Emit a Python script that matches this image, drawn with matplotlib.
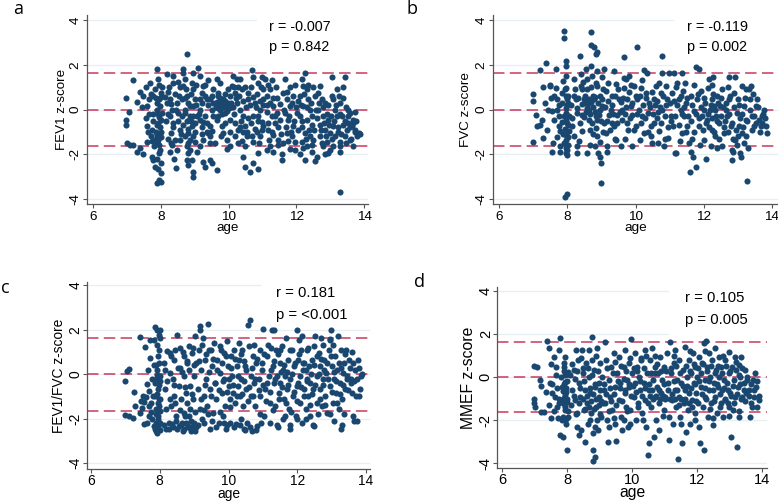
import matplotlib
matplotlib.use('Agg')
import matplotlib.pyplot as plt
import numpy as np
from matplotlib.patches import Rectangle

plt.rcParams['font.family'] = ['Liberation Sans', 'DejaVu Sans']

# (age, z-score) pairs
fev1 = [
    (6.97, 0.5), (6.97, -0.45), (6.97, -0.68), (6.99, -1.5), (7.09, -1.6), (7.19, 1.3), (7.17, -1.6),
    (7.29, -1.9), (7.48, -2.0), (7.39, 0.8), (7.48, 0.6), (7.07, -0.1),
    (7.58, 0.15), (7.68, 1.2), (7.58, -0.75), (7.63, -1.0), (7.70, -1.2), (7.73, -1.4), (7.78, 0.6),
    (7.83, 0.9), (7.88, 1.8), (7.66, 0.45), (7.76, -0.2), (7.78, -0.5), (7.80, -1.65), (7.73, -2.1),
    (7.78, -2.25), (7.83, -2.55), (7.88, -3.3), (7.96, -3.15), (8.00, -2.85), (7.88, -0.7), (7.86, -1.0),
    (7.90, -1.15), (7.93, -1.35), (7.96, -1.6), (7.98, -1.8), (7.98, -0.8), (8.00, -0.45), (8.03, -0.15),
    (7.98, 0.15), (7.96, 0.45), (8.00, 0.75), (8.03, 1.0), (7.88, 0.0), (7.93, -0.2),
    (8.17, 1.6), (8.22, 0.8), (8.27, 0.45), (8.17, 0.3), (8.37, 1.2), (8.42, 0.7), (8.32, 0.0),
    (8.27, -0.3), (8.37, -0.6), (8.29, -1.05), (8.42, -1.35), (8.27, -1.9), (8.32, -1.6), (8.47, 0.3),
    (8.52, -0.15), (8.57, -0.9), (8.47, -1.8), (8.37, 1.5), (8.57, 1.0),
    (8.66, 1.65), (8.71, 1.35), (8.76, 2.5), (8.65, 1.05), (8.76, 0.6), (8.81, 0.3), (8.71, 0.0),
    (8.86, -0.3), (8.76, -0.5), (8.91, -0.75), (8.81, -1.05), (8.86, -1.35), (8.76, -1.65), (8.81, -1.95),
    (8.76, -2.25), (8.81, -2.5), (8.66, 1.8), (8.96, 1.65), (8.91, 1.2), (8.96, 0.9), (9.01, 0.45),
    (8.96, 0.15), (9.06, -0.3), (9.01, -1.0), (9.06, -1.9), (8.96, -2.8), (8.96, -3.0), (8.91, -2.25),
    (8.62, 0.45), (8.62, -0.3), (8.57, -1.35),
    (9.11, 1.85), (9.16, 1.5), (9.25, 1.05), (9.21, 0.75), (9.35, 0.45), (9.16, 0.0), (9.30, -0.3),
    (9.35, -0.6), (9.21, -0.8), (9.40, -1.05), (9.25, -1.35), (9.16, -1.65), (9.45, -1.5), (9.25, -2.35),
    (9.30, -2.55), (9.45, -2.25), (9.50, -2.4), (9.55, 0.9), (9.45, 0.45), (9.50, 0.0), (9.16, -0.45),
    (9.45, -0.75),
    (9.65, -2.7), (9.60, -1.5), (9.70, 0.75), (9.75, 0.5), (9.80, 0.3), (9.84, 0.45), (9.75, 0.0),
    (9.89, -0.15), (9.94, 0.15), (9.99, 0.3), (9.65, -0.45), (9.80, -0.75), (9.84, -1.05), (9.94, -1.35),
    (10.04, -1.65), (9.75, 1.2), (9.65, 1.35), (9.99, 0.9), (10.04, 0.6), (10.09, 1.05), (9.94, -1.75),
    (10.04, -0.45),
    (10.14, 1.5), (10.24, 1.35), (10.34, 1.35), (10.19, 0.75), (10.29, 1.0), (10.39, 0.9), (10.48, 1.0),
    (10.24, 0.3), (10.34, 0.0), (10.43, -0.3), (10.19, -0.6), (10.34, -0.8), (10.43, -1.0), (10.53, -1.2),
    (10.29, -1.5), (10.48, -1.65), (10.43, -2.1), (10.48, -2.55), (10.63, -2.8), (10.58, 0.75), (10.58, 0.45),
    (10.68, 1.75), (10.73, 1.45), (10.88, 1.2), (10.98, 1.45), (10.83, 0.7), (10.78, 0.3), (10.93, 0.0),
    (10.73, -0.3), (10.88, -0.5), (11.02, -0.75), (10.83, -1.0), (10.93, -1.2), (10.73, -1.45), (10.88, -1.95),
    (10.88, -2.65), (11.02, 0.9), (11.02, 0.45), (10.98, -0.9), (10.73, -2.4),
    (11.07, 1.35), (11.17, 1.1), (11.27, 1.3), (11.12, 0.6), (11.22, 0.3), (11.32, 0.5), (11.12, -0.1),
    (11.27, -0.3), (11.37, -0.6), (11.17, -0.9), (11.32, -1.15), (11.47, -1.35), (11.22, -1.65), (11.32, -1.9),
    (11.42, -0.15), (11.52, -0.45), (11.12, -1.8),
    (11.66, 1.35), (11.61, 0.75), (11.71, 0.45), (11.81, 0.15), (11.66, -0.15), (11.76, -0.45), (11.91, -0.75),
    (11.71, -1.05), (11.86, -1.2), (11.61, -1.5), (11.81, -1.75), (11.57, -2.0), (11.57, -2.25), (11.96, 1.1),
    (11.91, 0.6), (12.01, -0.15), (11.96, -1.45), (11.81, 1.0),
    (12.25, 1.65), (12.16, 1.35), (12.20, 1.05), (12.30, 0.9), (12.11, 0.6), (12.35, 0.45), (12.20, 0.15),
    (12.40, 0.0), (12.11, -0.3), (12.30, -0.45), (12.45, -0.7), (12.16, -0.8), (12.25, -1.05), (12.40, -1.2),
    (12.16, -1.45), (12.30, -1.65), (12.45, -1.9), (12.25, -2.25), (12.11, -2.0), (12.50, 1.0), (12.55, 0.6),
    (12.50, -1.35),
    (12.70, 1.05), (12.65, 0.75), (12.75, 0.45), (12.84, 0.3), (12.65, 0.0), (12.79, -0.3), (12.94, -0.45),
    (12.70, -0.7), (12.84, -0.9), (12.99, -1.05), (12.70, -1.2), (12.89, -1.45), (12.79, -1.65), (12.99, -1.8),
    (12.94, -1.95), (12.84, -2.0), (12.60, -2.1), (12.55, -2.3), (13.04, 0.6), (13.04, 1.45),
    (13.09, 0.45), (13.14, 0.0), (13.19, -0.3), (13.09, -0.75), (13.24, -1.0), (13.14, -1.2), (13.29, -1.45),
    (13.09, -1.65), (13.29, 0.3), (13.34, -0.3), (13.38, -0.7), (13.48, -0.9), (13.43, -1.2), (13.29, -3.7),
    (13.38, 1.0), (13.43, 1.45), (13.19, 0.9), (13.27, -1.65), (13.29, -1.9),
    (13.53, 0.0), (13.58, -0.15), (13.68, -0.45), (13.73, -0.1), (13.63, -0.75), (13.73, -1.0), (13.83, -1.05),
    (13.78, -1.2), (13.88, -1.1), (13.58, -1.35), (13.68, -1.65), (13.53, -0.6),
    (7.92, 1.35), (7.95, 1.1), (8.0, 0.55), (7.9, 0.3), (7.95, -0.35), (7.92, -0.6), (8.02, -1.0),
    (8.0, -1.25), (7.9, -1.5), (7.95, -1.95), (7.9, -2.2), (8.0, -2.4), (7.92, -2.65), (8.02, -3.25),
    (7.85, 0.5), (7.85, -1.3), (7.3, 0.35), (7.45, 0.1), (7.55, -0.4), (7.6, -1.45), (7.65, -0.2),
    (7.7, 0.7), (7.75, -0.9), (7.4, -1.7), (7.55, 1.0),
    (8.12, 0.55), (8.15, -0.5), (8.2, -1.3), (8.25, 1.0), (8.3, 0.25), (8.35, -0.8), (8.4, -2.2),
    (8.45, 0.0), (8.5, -0.5), (8.55, 0.6), (8.6, -1.1), (8.45, -2.6), (8.2, -0.2), (8.3, -1.5), (8.5, 1.25),
    (8.65, -0.7), (8.7, -1.2), (8.75, 0.9), (8.8, -0.85), (8.85, 0.15), (8.9, -0.5), (8.95, -1.2),
    (9.0, -0.6), (9.05, 0.2), (8.7, 0.5), (8.8, -1.5), (8.9, 0.7), (9.0, -1.45), (8.85, -1.8), (9.05, 1.1),
    (8.72, -0.15), (8.95, -0.3), (8.82, -0.45),
    (9.12, -0.2), (9.2, 0.3), (9.25, -0.55), (9.3, 0.6), (9.35, -1.0), (9.4, 0.2), (9.45, -1.2), (9.5, 0.6),
    (9.55, -0.3), (9.2, -1.1), (9.4, 1.3), (9.3, 1.1), (9.5, -0.95), (9.55, 0.3), (9.15, 0.45),
    (9.62, 0.1), (9.67, 0.35), (9.7, 0.05), (9.72, 0.2), (9.78, 0.35), (9.82, 0.1), (9.85, 0.25), (9.9, 0.4),
    (9.95, -0.05), (10.0, 0.05), (9.7, -0.3), (9.78, -1.2), (9.88, -0.6), (10.05, -1.0), (9.68, 0.6),
    (9.9, 0.7), (9.8, -0.2), (10.08, 0.3),
    (10.12, 0.1), (10.17, -0.2), (10.22, 0.5), (10.27, -0.9), (10.32, 0.6), (10.37, -0.5), (10.42, 0.4),
    (10.47, -0.75), (10.52, 0.1), (10.57, -0.4), (10.2, -1.2), (10.4, -1.4), (10.55, -1.0), (10.15, 1.0),
    (10.62, 0.2), (10.67, -0.6), (10.72, 0.55), (10.77, -0.85), (10.82, 0.1), (10.87, -0.3), (10.92, 0.4),
    (10.97, -0.55), (11.0, 0.2), (10.7, -1.2), (10.9, -1.5), (10.65, 1.0), (10.95, 1.0),
    (11.12, 0.2), (11.17, -0.6), (11.22, 0.9), (11.27, -1.0), (11.32, 0.15), (11.37, -0.3), (11.42, 0.5),
    (11.47, -0.8), (11.52, 0.25), (11.55, -1.1), (11.2, -1.35), (11.4, 1.0), (11.45, -1.6),
    (11.62, 0.0), (11.68, -0.8), (11.73, 0.8), (11.78, -0.3), (11.83, -1.0), (11.88, 0.3), (11.93, -0.5),
    (11.98, 0.1), (12.05, -0.9), (11.75, -1.4), (11.95, -1.8), (12.05, 0.4),
    (12.12, 0.2), (12.17, -0.5), (12.22, 0.7), (12.27, -1.3), (12.32, 0.1), (12.37, -0.9), (12.42, 0.3),
    (12.47, -0.3), (12.52, -0.9), (12.57, 0.0), (12.2, -1.7), (12.45, -1.6), (12.35, 1.1),
    (12.62, -0.4), (12.67, 0.3), (12.72, -0.9), (12.77, 0.1), (12.82, -0.6), (12.87, -1.2), (12.92, 0.2),
    (12.97, -0.7), (13.02, -0.3), (13.05, -1.3), (12.75, -1.5), (12.9, -0.2),
    (13.12, -0.5), (13.17, 0.2), (13.22, -0.8), (13.27, -0.2), (13.32, -1.1), (13.37, 0.5), (13.42, -0.5),
    (13.47, -1.5), (13.52, -0.3), (13.57, -0.8), (13.62, -1.3), (13.67, -0.6), (13.72, -0.9), (13.77, -0.5),
    (13.25, 0.6), (13.45, 0.1),
]

fvc = [
    (6.99, 0.68), (6.99, 0.38), (6.99, -1.47), (7.07, -0.23), (7.12, -0.75), (7.2, -0.68), (7.19, 1.76),
    (7.29, -1.28), (7.39, 2.07), (7.45, 0.0), (7.48, 1.05), (7.51, 0.53), (7.56, -1.92), (7.6, -0.45),
    (7.66, 1.8), (7.66, 0.98), (7.71, 0.45), (7.71, 0.0), (7.76, -0.3), (7.76, -0.75), (7.8, -0.98),
    (7.78, -1.65), (7.8, -1.88), (7.86, 0.75), (7.86, 0.3), (7.88, 1.28), (7.9, 3.5), (7.9, 3.19),
    (7.93, -3.91), (8.0, -3.79), (7.95, 2.18), (7.95, 1.95), (7.95, 1.5), (7.95, 0.98), (7.97, 0.08),
    (7.97, -0.15), (7.97, -0.45), (7.95, -1.05), (7.97, -1.35), (7.97, -1.73), (8.0, -2.03), (8.01, 0.6),
    (8.03, -0.68), (8.03, -1.58), (8.05, -0.98), (8.0, 0.45), (8.13, -0.75), (8.2, 0.6), (8.2, 1.35),
    (8.25, 0.45), (8.3, 0.08), (8.3, -1.65), (8.3, -1.95), (8.36, 2.38), (8.39, 1.58), (8.39, 1.05),
    (8.42, -0.23), (8.44, 0.9), (8.44, -0.98), (8.49, 0.45), (8.54, 0.3), (8.56, 1.8), (8.59, 1.35),
    (8.59, 0.9), (8.59, -1.95), (8.64, 0.45), (8.64, 0.0), (8.64, -0.45), (8.66, -1.58), (8.69, 3.46),
    (8.69, 2.86), (8.71, 1.95), (8.73, 1.5), (8.75, 0.6), (8.78, 2.78), (8.78, 0.45), (8.81, -1.65),
    (8.83, -0.3), (8.83, -0.83), (8.85, 2.48), (8.88, 2.56), (8.88, 1.73), (8.88, 1.05), (8.88, -1.2),
    (8.91, -1.95), (8.95, 0.0), (8.95, -2.1), (8.98, -2.4), (8.99, -3.26), (9.03, 1.43), (9.03, 0.45),
    (9.08, -0.6), (9.08, 1.8), (9.13, -1.05), (9.13, 0.83), (9.17, -1.65), (9.17, -1.88), (9.22, -0.23),
    (9.27, 0.0), (9.32, 0.6), (9.37, 1.73), (9.37, -0.75), (9.42, 1.13), (9.42, -1.35), (9.47, -0.23),
    (9.52, 0.45), (9.57, -1.65), (9.61, 0.0), (9.61, -0.45), (9.66, 0.98), (9.66, 2.33), (9.71, 1.35),
    (9.76, 0.45), (9.79, -0.9), (9.81, 1.5), (9.86, 0.15), (9.91, -0.23), (9.91, -1.65), (9.96, 1.05),
    (10.0, -0.75), (10.05, 2.81), (10.05, 0.45), (10.1, 0.0), (10.12, -1.35), (10.15, 0.98), (10.2, -0.3),
    (10.25, 1.77), (10.25, -1.05), (10.3, 0.75), (10.35, 1.65), (10.38, -0.15), (10.39, 0.3), (10.44, -0.75),
    (10.49, -1.5), (10.54, 0.45), (10.59, 1.05), (10.64, -0.38), (10.69, -0.98), (10.74, 0.75), (10.77, 2.38),
    (10.79, 1.65), (10.79, 0.0), (10.83, -1.65), (10.88, 1.05), (10.93, 0.45), (10.96, -1.28), (10.98, 1.65),
    (11.03, -0.3), (11.08, 0.75), (11.1, -0.75), (11.13, 1.65), (11.16, -1.95), (11.2, -1.95), (11.22, 1.2),
    (11.27, 0.45), (11.32, 0.0), (11.35, -1.05), (11.37, 1.65), (11.39, 0.83), (11.42, -0.3), (11.47, 0.3),
    (11.52, -0.75), (11.57, -1.5), (11.59, -2.81), (11.62, 0.6), (11.64, -1.88), (11.68, -2.1), (11.71, -0.08),
    (11.76, 1.88), (11.76, -2.56), (11.81, 0.45), (11.86, 1.8), (11.86, -0.75), (11.91, 0.83), (11.96, -0.3),
    (12.01, 0.0), (12.01, -1.35), (12.05, 0.3), (12.08, -2.23), (12.1, -0.45), (12.13, 0.98), (12.15, 1.35),
    (12.17, 0.0), (12.2, -1.65), (12.23, 0.45), (12.25, -0.9), (12.28, 1.43), (12.3, 0.15), (12.33, -1.2),
    (12.35, -0.3), (12.4, 0.6), (12.45, -0.6), (12.49, 0.15), (12.54, 0.9), (12.54, -1.65), (12.59, -1.05),
    (12.64, 0.0), (12.69, -0.3), (12.74, 1.43), (12.74, 0.45), (12.79, -0.75), (12.82, -1.8), (12.84, -2.26),
    (12.88, 0.75), (12.93, 1.43), (12.93, -1.35), (12.98, -0.15), (13.01, 0.45), (13.03, -0.75), (13.05, -1.95),
    (13.08, -2.1), (13.13, 1.05), (13.13, -1.05), (13.18, 0.15), (13.18, -1.5), (13.23, -0.45), (13.28, -3.2),
    (13.32, 0.9), (13.37, 0.45), (13.42, -0.3), (13.47, -0.75), (13.52, 0.15), (13.57, 0.45), (13.62, -0.45),
    (13.67, -0.75), (13.72, -0.3), (13.77, 0.0), (13.82, -0.75), (13.86, -1.05),
    (7.92, 0.9), (7.95, 0.6), (7.98, 0.2), (7.9, -0.3), (8.0, -0.6), (7.93, -0.85), (7.97, -1.15),
    (8.02, -1.25), (7.9, -1.5), (8.0, -1.8), (7.85, -0.55), (7.88, -1.1), (8.03, 0.3), (7.95, -1.95),
    (8.05, -0.3), (7.25, -0.45), (7.35, 0.3), (7.42, -0.9), (7.5, 1.1), (7.55, -0.05), (7.62, 0.6),
    (7.7, -1.25), (7.75, 0.2), (7.3, 1.0), (7.58, -1.5),
    (8.1, 0.2), (8.15, -0.4), (8.22, 0.9), (8.28, -0.15), (8.32, 0.5), (8.38, -0.6), (8.42, 0.25),
    (8.48, -0.35), (8.52, 0.6), (8.55, -0.1), (8.2, -1.2), (8.35, -1.4), (8.45, 1.25), (8.58, 0.05),
    (8.62, 0.25), (8.66, -0.2), (8.7, 0.35), (8.72, -0.6), (8.76, 0.1), (8.8, -0.1), (8.82, 0.55),
    (8.86, -0.45), (8.9, 0.3), (8.92, -0.25), (8.96, 0.6), (9.0, -0.5), (9.02, 0.15), (9.06, -1.0),
    (8.7, 1.0), (8.85, 1.2), (8.75, -1.1), (8.95, -1.45), (8.68, -0.9), (9.05, 0.9),
    (9.12, 0.1), (9.16, -0.5), (9.2, 0.4), (9.25, -0.9), (9.3, 0.2), (9.35, -0.2), (9.4, 0.6), (9.45, -0.6),
    (9.5, 0.9), (9.55, -0.1), (9.2, 1.2), (9.4, -1.3), (9.3, -0.6), (9.58, 0.35),
    (9.63, 0.5), (9.68, -0.2), (9.72, 0.1), (9.75, -0.6), (9.8, 0.8), (9.85, -0.4), (9.9, 0.3), (9.95, -0.9),
    (10.0, 0.6), (9.7, -1.3), (9.88, 1.1), (10.05, -0.2), (9.65, 1.4),
    (10.12, 0.6), (10.17, -0.6), (10.22, 0.2), (10.28, -0.4), (10.32, 0.5), (10.37, -1.0), (10.42, 0.1),
    (10.47, 0.8), (10.52, -0.2), (10.57, 0.2), (10.2, 1.3), (10.45, -1.2), (10.55, -0.6),
    (10.62, 0.4), (10.67, -0.1), (10.72, 0.1), (10.76, -0.6), (10.82, 0.6), (10.86, -0.3), (10.9, 0.2),
    (10.95, -0.8), (11.0, 0.3), (11.05, -0.5), (10.7, 1.2), (10.85, -1.3), (10.66, -1.5),
    (11.12, 0.4), (11.17, -0.3), (11.22, 0.2), (11.27, -0.7), (11.32, 0.6), (11.37, -0.2), (11.42, 0.1),
    (11.47, -1.0), (11.52, 0.5), (11.55, -0.3), (11.2, 1.0), (11.3, -1.4), (11.45, 1.2),
    (11.62, -0.5), (11.67, 0.2), (11.72, -1.0), (11.78, -0.2), (11.82, 0.7), (11.87, -0.4), (11.92, 0.1),
    (11.97, -0.9), (12.02, 0.5), (12.06, -0.6), (11.7, 1.1), (11.9, -1.6), (11.65, -1.3),
    (12.12, -0.2), (12.15, -0.8), (12.2, 0.2), (12.24, -0.4), (12.27, 0.7), (12.3, -1.0), (12.34, 0.0),
    (12.38, -0.5), (12.42, 0.3), (12.46, -1.3), (12.5, -0.3), (12.55, 0.1), (12.58, -0.8), (12.25, 1.1),
    (12.4, -1.7), (12.52, 0.5),
    (12.62, -0.5), (12.66, 0.3), (12.7, -1.0), (12.74, -0.2), (12.78, 0.6), (12.82, -0.6), (12.86, -1.3),
    (12.9, 0.1), (12.94, -0.9), (12.98, -1.6), (13.02, 0.2), (13.06, -0.4), (12.72, 1.0), (12.85, -1.9),
    (13.0, -1.2),
    (13.12, -0.2), (13.15, -0.8), (13.2, 0.5), (13.24, -1.2), (13.28, -0.5), (13.3, -1.7), (13.35, 0.0),
    (13.4, -0.9), (13.44, 0.7), (13.48, -0.3), (13.54, -0.6), (13.6, 0.1), (13.65, -1.0), (13.7, -0.6),
    (13.75, -0.2), (13.8, -0.4), (13.25, 0.9), (13.38, 1.05),
]

fev1_fvc = [
    (7.0, -0.31), (7.05, 0.13), (7.12, 0.24), (7.0, -1.84), (7.1, -1.88), (7.22, -1.96), (7.29, -1.43),
    (7.24, -0.81), (7.42, 1.67), (7.44, -1.73), (7.48, -1.51), (7.51, -0.99), (7.53, -2.25), (7.58, 1.22),
    (7.6, -1.01), (7.63, -0.46), (7.68, -1.43), (7.71, 1.55), (7.73, 0.73), (7.75, -1.28), (7.78, -2.03),
    (7.78, -0.24), (7.82, 0.43), (7.82, -2.33), (7.84, 1.55), (7.87, 2.12), (7.87, -0.39), (7.87, -0.99),
    (7.9, -1.58), (7.9, -2.55), (7.92, 2.0), (7.92, 0.21), (7.94, -0.69), (7.94, -1.88), (7.97, 1.1),
    (7.97, -1.13), (8.0, -0.09), (8.0, -2.18), (8.02, 1.63), (8.02, 1.97), (7.92, -2.63), (7.94, -2.03),
    (7.97, 0.51), (7.98, -1.43), (7.9, -0.24),
    (8.11, 0.51), (8.16, -0.69), (8.19, -1.58), (8.21, 1.03), (8.26, -2.48), (8.29, 0.96), (8.31, 0.06),
    (8.33, -1.43), (8.36, -2.25), (8.39, -0.24), (8.41, 0.66), (8.42, -0.99), (8.45, 1.1), (8.48, -1.88),
    (8.5, 1.78), (8.5, -2.48),
    (8.55, -0.54), (8.58, 0.28), (8.6, 1.18), (8.62, -1.13), (8.65, -2.18), (8.68, -2.55), (8.7, 0.81),
    (8.72, -0.09), (8.74, -1.88), (8.77, -0.84), (8.79, 0.51), (8.81, -2.33), (8.84, 1.25), (8.87, -0.54),
    (8.89, -1.58), (8.91, -2.48), (8.94, 0.96), (8.97, -1.13), (8.99, -0.09), (9.01, -2.18), (9.04, 1.73),
    (9.04, -2.55), (9.06, 0.51),
    (9.1, -0.69), (9.13, 1.1), (9.16, 2.15), (9.18, 2.0), (9.18, -1.58), (9.2, 0.21), (9.23, -2.03),
    (9.26, 1.63), (9.28, -0.99), (9.33, 0.66), (9.36, -0.24), (9.38, -1.43), (9.39, 2.27), (9.42, 1.1),
    (9.45, -0.69), (9.47, -2.48), (9.52, 0.36), (9.55, -1.73), (9.57, 1.4), (9.62, -0.39), (9.65, -1.13),
    (9.67, 0.66),
    (9.71, -2.18), (9.74, 1.25), (9.76, 0.06), (9.81, -0.84), (9.84, -1.88), (9.86, 0.96), (9.88, -0.24),
    (9.91, -1.43), (9.94, -2.48), (9.96, 1.48), (9.98, 0.36), (10.01, -0.54), (10.03, -1.13), (10.05, -2.18),
    (10.07, 0.81),
    (10.1, -0.09), (10.13, -0.84), (10.15, 1.1), (10.2, -1.28), (10.23, -2.25), (10.25, 0.36), (10.27, -0.54),
    (10.3, 0.66), (10.33, -0.99), (10.35, -2.03), (10.36, -0.24), (10.39, 1.1), (10.42, -1.43), (10.44, -2.48),
    (10.49, 0.36), (10.52, -0.69), (10.54, -2.18), (10.56, 2.22), (10.59, 1.25), (10.62, 2.42), (10.64, -0.09),
    (10.66, -0.99), (10.68, -2.55), (10.71, 0.81),
    (10.73, -0.39), (10.78, -1.43), (10.81, 0.51), (10.83, -2.33), (10.88, -0.24), (10.91, 1.1), (10.93, -0.99),
    (10.98, 0.21), (11.0, 2.03), (11.02, -1.88), (11.07, -0.69),
    (11.12, 0.81), (11.17, -0.09), (11.2, -1.28), (11.22, -2.18), (11.27, 2.0), (11.3, 0.36), (11.32, -0.39),
    (11.33, 2.0), (11.36, -1.43), (11.39, 1.1), (11.41, -0.09), (11.43, -2.4), (11.46, -0.84), (11.49, 0.51),
    (11.51, -0.39), (11.56, 1.25), (11.59, 0.21),
    (11.61, -1.13), (11.63, -1.88), (11.65, -0.09), (11.68, 1.63), (11.7, -0.69), (11.72, 0.66), (11.75, -1.58),
    (11.78, -2.48), (11.8, -0.24), (11.85, 1.1), (11.88, -0.99), (11.9, 0.36), (11.95, -1.88), (11.98, -0.54),
    (12.0, 2.0), (12.01, 0.66),
    (12.04, 1.55), (12.07, -0.09), (12.09, -1.28), (12.11, 1.1), (12.14, -2.18), (12.17, 0.21), (12.19, -0.69),
    (12.21, 0.51), (12.24, -1.58), (12.27, -0.24), (12.29, 1.1), (12.3, -0.99), (12.33, 0.36), (12.36, -0.39),
    (12.38, -1.88), (12.43, 0.66), (12.46, -0.69), (12.48, 1.25), (12.5, -2.33), (12.53, 1.7), (12.56, -1.28),
    (12.58, -0.09), (12.62, 0.96), (12.65, -0.69), (12.67, 0.36), (12.69, 1.63), (12.72, -1.43), (12.75, -0.24),
    (12.77, 0.66), (12.82, -0.99), (12.85, 0.06), (12.87, -1.73), (12.92, 1.1), (12.94, -0.54), (12.96, 1.55),
    (12.98, 2.0), (13.01, 0.36), (13.04, -1.28),
    (13.06, -0.24), (13.08, -2.1), (13.11, 0.81), (13.14, -0.84), (13.16, 0.21), (13.18, 1.7), (13.21, -1.58),
    (13.24, -0.39), (13.26, -2.48), (13.27, 1.1), (13.3, -1.13), (13.33, 0.06), (13.35, 0.51), (13.4, -0.69),
    (13.43, 1.1), (13.45, -0.09), (13.5, 0.66),
    (13.55, -0.39), (13.59, -0.84), (13.62, -1.88), (13.64, -2.1), (13.69, 0.21), (13.74, -0.24), (13.76, 0.66),
    (13.79, -0.99), (13.82, -0.69), (13.86, -0.09), (13.89, -0.01),
    (7.92, 1.3), (7.95, 0.8), (7.9, 0.4), (7.97, -0.5), (7.92, -0.9), (7.95, -1.3), (8.0, -1.65),
    (7.9, -2.2), (7.95, -2.4), (8.0, -2.5), (7.88, -1.8), (7.98, 1.75), (7.93, -0.05), (8.02, -0.3),
    (7.85, -2.45), (8.02, -1.1), (7.55, -1.25), (7.62, -2.2), (7.65, 0.2), (7.7, -0.75), (7.75, -1.7),
    (7.8, -1.0), (7.45, -1.2), (7.68, -1.9),
    (8.12, -2.3), (8.18, -2.45), (8.22, -0.3), (8.27, -2.2), (8.32, 0.8), (8.38, -2.4), (8.42, -0.5),
    (8.46, -2.1), (8.52, 0.3), (8.55, -2.35), (8.3, -1.1), (8.45, -1.3), (8.15, 0.2), (8.58, -1.6),
    (8.62, -2.3), (8.66, 0.1), (8.7, -2.45), (8.74, -0.6), (8.76, -2.2), (8.8, -1.3), (8.83, -2.4),
    (8.86, 0.2), (8.9, -2.1), (8.93, -0.9), (8.96, -2.35), (9.0, 0.4), (9.03, -1.7), (9.06, -2.4),
    (8.68, 1.0), (8.85, -1.9), (8.98, 1.2), (8.72, -1.75), (8.92, -2.55), (8.8, 0.6),
    (9.12, -2.3), (9.15, 0.6), (9.2, -1.1), (9.24, 1.3), (9.28, -2.2), (9.32, -0.5), (9.36, 0.9),
    (9.4, -1.8), (9.44, 0.1), (9.48, -1.0), (9.52, -2.1), (9.56, 0.7), (9.6, -0.4), (9.3, -1.6), (9.5, 1.1),
    (9.64, -2.4), (9.68, 0.2), (9.72, -0.7), (9.76, -1.7), (9.8, 0.5), (9.84, -0.3), (9.88, -2.2),
    (9.92, 0.8), (9.96, -0.8), (10.0, -0.2), (10.04, -1.5), (10.08, 0.3), (9.78, 1.1), (9.95, -2.3),
    (10.12, -0.5), (10.16, -2.4), (10.2, 0.7), (10.24, -1.0), (10.28, -0.1), (10.32, -2.3), (10.36, 0.9),
    (10.4, -0.9), (10.44, -0.3), (10.48, -2.5), (10.52, 0.2), (10.56, -1.2), (10.6, -0.6), (10.3, 1.4),
    (10.45, 0.6),
    (10.63, -2.4), (10.67, 0.3), (10.72, -1.0), (10.76, -0.2), (10.8, -2.5), (10.84, 0.7), (10.88, -0.7),
    (10.92, -1.8), (10.96, 0.5), (11.0, -0.5), (11.04, 0.9), (11.08, -1.2), (10.75, 1.3), (10.95, -2.2),
    (11.12, -0.4), (11.16, 1.3), (11.2, -0.8), (11.24, 0.2), (11.28, -1.6), (11.32, 0.6), (11.36, -0.2),
    (11.4, -2.3), (11.44, 0.9), (11.48, -1.1), (11.52, 0.1), (11.56, -0.6), (11.58, -2.0), (11.25, 1.2),
    (11.5, 1.1),
    (11.62, 0.4), (11.66, -1.3), (11.7, 0.1), (11.74, -0.5), (11.78, 1.1), (11.82, -1.7), (11.86, 0.0),
    (11.9, -0.8), (11.94, 0.5), (11.98, -1.2), (12.02, -0.4), (12.06, 0.9), (11.8, -2.3), (12.0, -2.0),
    (12.12, -0.6), (12.16, 0.5), (12.2, -1.0), (12.24, 0.2), (12.28, -0.3), (12.32, 1.2), (12.36, -1.4),
    (12.4, 0.0), (12.44, -0.9), (12.48, 0.4), (12.52, -0.5), (12.56, 0.8), (12.6, -1.8), (12.25, -2.0),
    (12.45, -2.3), (12.15, 1.7),
    (12.63, 0.0), (12.67, -1.1), (12.7, 0.7), (12.74, -0.5), (12.78, 0.2), (12.82, -1.4), (12.86, 0.5),
    (12.9, -0.2), (12.94, -1.8), (12.98, 0.8), (13.02, -0.8), (13.06, 0.1), (12.75, 1.3), (12.95, 1.6),
    (13.05, 1.3),
    (13.12, -0.3), (13.16, -1.3), (13.2, 0.5), (13.24, -0.9), (13.28, 0.3), (13.32, -0.5), (13.36, -1.8),
    (13.4, 0.9), (13.44, -0.2), (13.48, -0.7), (13.52, 0.3), (13.56, -0.2), (13.62, 0.5), (13.66, -0.3),
    (13.7, -1.0), (13.8, 0.3), (13.75, -2.1), (13.6, 1.0), (13.3, -2.3),
]

mmef = [
    (6.97, -1.0), (6.97, -1.22), (6.99, 0.51), (7.08, 0.45), (7.03, -1.38), (7.18, -0.14), (7.21, -1.64),
    (7.28, -1.61), (7.38, 1.69), (7.46, 1.33), (7.49, -0.29), (7.51, -1.92), (7.54, -0.76), (7.59, 0.95),
    (7.64, -0.91), (7.66, 0.48), (7.69, -1.38), (7.74, -1.22), (7.76, 1.26), (7.79, 1.84), (7.79, -2.7),
    (7.83, 0.02), (7.85, -0.45), (7.85, -2.0), (7.87, -2.78), (7.9, 0.48), (7.9, -0.99), (7.93, -1.53),
    (7.95, 0.95), (7.95, -0.22), (7.97, -0.68), (7.97, -2.16), (8.0, -1.15), (8.0, -3.4), (8.02, 0.25),
    (8.03, -1.84),
    (8.1, 0.09), (8.15, -0.6), (8.21, 0.33), (8.26, -1.07), (8.28, 1.26), (8.31, -1.69), (8.34, 0.79),
    (8.36, -0.29), (8.38, -2.7), (8.41, -0.91), (8.44, -2.47), (8.46, 1.26), (8.48, 0.17), (8.51, -1.53),
    (8.54, -0.6),
    (8.56, -3.0), (8.58, 0.64), (8.62, -1.22), (8.65, -2.16), (8.67, 0.02), (8.69, 1.26), (8.72, -0.76),
    (8.75, -1.69), (8.77, 1.88), (8.79, -2.62), (8.79, -3.4), (8.81, -3.89), (8.82, 0.33), (8.85, -0.45),
    (8.87, -3.7), (8.89, -1.38), (8.92, 1.35), (8.95, -2.47), (8.97, -0.29), (8.99, -0.91), (9.03, 0.64),
    (9.06, -1.84),
    (9.08, 0.02), (9.13, -0.6), (9.16, 1.63), (9.18, -1.22), (9.2, 0.79), (9.23, -2.0), (9.26, -3.0),
    (9.28, -0.14), (9.33, -0.91), (9.36, 0.48), (9.38, -1.53), (9.44, 1.1), (9.47, -0.45), (9.49, -2.16),
    (9.51, -2.96), (9.54, 0.17),
    (9.59, -1.07), (9.61, 0.95), (9.64, -0.29), (9.67, -1.84), (9.69, -2.47), (9.74, 0.48), (9.77, -0.76),
    (9.79, 1.26), (9.82, -1.38), (9.85, -0.14), (9.88, -2.31), (9.9, 0.64), (9.92, -0.45), (9.95, -1.53),
    (9.98, 1.78), (10.0, 0.17),
    (10.05, -0.91), (10.08, 1.1), (10.1, -0.29), (10.12, -2.0), (10.15, 0.48), (10.18, -1.22), (10.21, 0.02),
    (10.26, -0.6), (10.29, 0.79), (10.31, -1.69), (10.36, -0.29), (10.39, 1.26), (10.41, -1.07), (10.43, -2.31),
    (10.46, 0.17), (10.49, -3.61), (10.51, -0.6), (10.53, -3.09),
    (10.56, 0.79), (10.59, -1.38), (10.62, 1.33), (10.64, -0.14), (10.67, -2.78), (10.7, -0.91), (10.72, 0.48),
    (10.74, -2.0), (10.77, -0.45), (10.8, 0.17), (10.82, -1.22), (10.84, -2.47), (10.87, 0.95), (10.9, -0.76),
    (10.92, -0.14), (10.97, -1.53), (11.0, 0.48),
    (11.03, -0.91), (11.08, 1.1), (11.11, -0.29), (11.13, -1.84), (11.15, -2.93), (11.18, 1.61), (11.21, 0.17),
    (11.23, -1.07), (11.25, -2.16), (11.28, 0.64), (11.31, -0.6), (11.33, 1.26), (11.35, -1.38), (11.38, -0.14),
    (11.42, -3.83), (11.44, -0.91), (11.46, 0.79), (11.49, -1.84), (11.52, -0.29), (11.54, -3.09),
    (11.56, 0.33), (11.59, -1.22), (11.62, 1.41), (11.64, -0.6), (11.66, -2.54), (11.69, 0.02), (11.72, -1.53),
    (11.74, 0.79), (11.76, -0.76), (11.79, -2.16), (11.83, 0.17), (11.85, -1.07), (11.87, 1.1), (11.9, -0.29),
    (11.93, -1.69), (11.95, 0.48), (11.97, -0.76),
    (12.0, 0.02), (12.03, -1.22), (12.05, -2.31), (12.07, 0.95), (12.1, -3.09), (12.13, -0.45), (12.15, 0.64),
    (12.17, -1.38), (12.21, -3.4), (12.22, 1.57), (12.24, -0.14), (12.26, -0.91), (12.28, 1.69), (12.31, 0.48),
    (12.34, -1.84), (12.36, -0.6), (12.38, 1.1), (12.41, 0.02), (12.44, -1.22),
    (12.46, 0.79), (12.48, -2.23), (12.51, -0.29), (12.54, 1.33), (12.56, -0.91), (12.58, 0.33), (12.62, -1.69),
    (12.65, -0.45), (12.67, 0.95), (12.69, 0.02), (12.72, -1.38), (12.75, 0.48), (12.77, -0.6), (12.79, -1.84),
    (12.82, -0.14), (12.85, -1.07), (12.87, 0.79),
    (12.92, -0.29), (12.95, -1.22), (12.97, 0.17), (12.99, 1.18), (13.03, -0.76), (13.06, -2.78), (13.08, 0.48),
    (13.1, -1.53), (13.13, -0.14), (13.16, 0.95), (13.18, -0.91), (13.2, 0.33), (13.23, -3.24), (13.26, -0.45),
    (13.28, -1.84), (13.3, 0.56), (13.33, 0.02), (13.36, 0.95), (13.38, -0.91),
    (13.44, -0.29), (13.47, 0.33), (13.51, -0.76), (13.54, -0.14), (13.59, -0.6), (13.64, -1.84), (13.67, -1.22),
    (13.71, -0.14), (13.74, -0.91), (13.79, 0.2), (13.82, -0.45), (13.85, -1.38), (13.9, -1.07),
    (7.92, 0.3), (7.95, 0.1), (7.9, -0.3), (7.97, -0.5), (7.93, -0.85), (8.0, -1.0), (7.9, -1.25),
    (7.95, -1.4), (8.02, -1.6), (7.88, -1.85), (7.98, -1.95), (7.92, 0.65), (7.85, -1.05), (8.0, -0.2),
    (7.88, -0.65), (7.2, -0.4), (7.35, -0.7), (7.45, -1.3), (7.55, -0.3), (7.6, -1.6), (7.65, 0.1),
    (7.7, -0.5), (7.75, -1.0), (7.5, 0.6), (7.72, -1.9),
    (8.12, -1.3), (8.16, 0.6), (8.2, -0.9), (8.24, -0.1), (8.28, -1.7), (8.32, 0.3), (8.36, -1.2),
    (8.4, -0.5), (8.44, 0.9), (8.48, -1.0), (8.52, -0.2), (8.56, -1.5), (8.3, -2.3), (8.5, 0.4),
    (8.62, -0.9), (8.65, 0.4), (8.68, -1.4), (8.71, -0.5), (8.74, -1.1), (8.77, 0.1), (8.8, -0.8),
    (8.83, -1.5), (8.86, -0.3), (8.89, -1.0), (8.92, -2.0), (8.95, 0.3), (8.98, -1.3), (9.01, -0.6),
    (9.04, -1.1), (8.7, -2.0), (8.85, -2.3), (9.0, -1.7), (8.78, 0.8), (8.9, 1.0),
    (9.12, -1.2), (9.15, -0.3), (9.2, -0.8), (9.24, 0.4), (9.28, -1.6), (9.32, -0.5), (9.36, -1.1),
    (9.4, 0.2), (9.44, -0.8), (9.48, 0.7), (9.52, -1.3), (9.56, -0.2), (9.3, -2.3), (9.45, -1.9),
    (9.62, -0.5), (9.66, 0.5), (9.7, -1.1), (9.74, -0.1), (9.78, -0.6), (9.82, 0.3), (9.86, -1.6),
    (9.9, -0.3), (9.94, 0.9), (9.98, -0.9), (10.02, -0.4), (10.06, 0.4), (9.75, -2.0), (9.95, -2.2),
    (10.12, -0.7), (10.16, 0.3), (10.2, -1.4), (10.24, -0.2), (10.28, 0.9), (10.32, -0.9), (10.36, 0.4),
    (10.4, -0.5), (10.44, 1.0), (10.48, -1.2), (10.52, -0.3), (10.56, -0.9), (10.6, 0.2), (10.35, -2.0),
    (10.62, -0.6), (10.66, -1.0), (10.7, 0.2), (10.74, -0.9), (10.78, 0.6), (10.82, -0.6), (10.86, -1.0),
    (10.9, 0.3), (10.94, -0.9), (10.98, -0.3), (11.02, -1.0), (11.06, 0.3), (10.7, 1.0), (10.95, -1.8),
    (11.12, -0.6), (11.16, -1.0), (11.2, 0.4), (11.24, -0.8), (11.28, -0.2), (11.32, -1.0), (11.36, 0.5),
    (11.4, -0.6), (11.44, -1.3), (11.48, 0.2), (11.52, -1.0), (11.56, -0.4), (11.3, 1.0), (11.5, -2.2),
    (11.62, -1.0), (11.66, 0.5), (11.7, -0.4), (11.74, -1.2), (11.78, 0.3), (11.82, -0.5), (11.86, -1.4),
    (11.9, 0.6), (11.94, -0.3), (11.98, -1.1), (12.02, 0.4), (12.06, -0.2), (11.8, 1.2), (11.95, -2.0),
    (12.12, 0.2), (12.16, -0.8), (12.2, 0.6), (12.24, -0.5), (12.28, -1.0), (12.32, 0.3), (12.36, -0.2),
    (12.4, -1.5), (12.44, 0.5), (12.48, -0.6), (12.52, -1.1), (12.56, 0.2), (12.25, 1.2), (12.5, -1.9),
    (12.62, -0.3), (12.66, 0.5), (12.7, -0.8), (12.74, -1.2), (12.78, 0.2), (12.82, -0.5), (12.86, -1.0),
    (12.9, 0.5), (12.94, -0.6), (12.98, -1.4), (13.02, 0.3), (13.06, -0.9), (12.8, 1.0), (13.0, -1.8),
    (13.12, -0.4), (13.15, -1.2), (13.2, 0.7), (13.24, -0.8), (13.28, 0.1), (13.32, -0.3), (13.36, -1.0),
    (13.4, 0.4), (13.44, -0.6), (13.48, -1.1), (13.55, 0.0), (13.6, -0.9), (13.65, -0.3), (13.7, -1.4),
    (13.75, -0.6), (13.85, -0.2), (13.3, -1.6), (13.9, -0.9),
]

panel_data = [fev1, fvc, fev1_fvc, mmef]
panel_letters = ['a', 'b', 'c', 'd']
y_labels = ['FEV1 z-score', 'FVC z-score', 'FEV1/FVC z-score', 'MMEF z-score']
r_values = ['-0.007', '-0.119', '0.181', '0.105']
p_values = ['0.842', '0.002', '<0.001', '0.005']
ref_lines = [-1.645, 0, 1.645]

W, H = 778, 504
navy = '#1a476f'
dash_red = '#c8395c'
grid_col = '#e6eff2'
axis_col = '#555555'

# per panel layout in pixels: axes box, limits, letter, stats, white text box corner, font sizes
layout = [
    dict(box=(87, 15, 368, 204), xlim=(5.823, 14.11), ylim=(-4.22, 4.22), letter=(13, 14),
         stats=(269, 27, 47), cover=(257, 68), tick_fs=9.7, lab_fs=9.6, stat_fs=10.4,
         ylab_x=-0.089, xlab_y=-0.125, xpad=2.0),
    dict(box=(493, 15, 778, 204), xlim=(5.824, 14.176), ylim=(-4.22, 4.22), letter=(407, 14),
         stats=(687, 27, 47), cover=(674, 68), tick_fs=9.7, lab_fs=9.7, stat_fs=10.4,
         ylab_x=-0.095, xlab_y=-0.125, xpad=2.0),
    dict(box=(87, 282, 370, 469), xlim=(5.884, 14.116), ylim=(-4.27, 4.15), letter=(1, 293),
         stats=(276, 293, 315), cover=(262, 322), tick_fs=9.9, lab_fs=9.9, stat_fs=10.7,
         ylab_x=-0.099, xlab_y=-0.134, xpad=0.6),
    dict(box=(497, 287, 767, 468), xlim=(5.846, 14.154), ylim=(-4.23, 4.19), letter=(414, 287),
         stats=(685, 298, 320), cover=(669, 336), tick_fs=10.5, lab_fs=11.3, stat_fs=10.7,
         ylab_x=-0.107, xlab_y=-0.137, xpad=0.5),
]

fig = plt.figure(figsize=(W / 100, H / 100), dpi=100)

for data, letter, ylab, r, p, lay in zip(panel_data, panel_letters, y_labels, r_values, p_values, layout):
    x0, y0, x1, y1 = lay['box']
    ax = fig.add_axes([x0 / W, 1 - y1 / H, (x1 - x0) / W, (y1 - y0) / H])
    ages, zs = np.array(data).T

    for g in [-4, -2, 0, 2, 4]:
        ax.axhline(g, color=grid_col, lw=0.9, zorder=0)
    # white text box that hides the grid behind the statistics
    cx, cy = lay['cover']
    ax.add_patch(Rectangle(((cx - x0) / (x1 - x0), (y1 - cy) / (y1 - y0)), 1, 1,
                           transform=ax.transAxes, facecolor='white', edgecolor='none', zorder=0.5))
    for v in ref_lines:
        ax.axhline(v, color=dash_red, lw=1.1, ls=(0, (7.5, 3.5)), zorder=1)

    ax.plot(ages, zs, 'o', ms=4.4, mew=0, color=navy, zorder=2)

    ax.set_xlim(*lay['xlim'])
    ax.set_ylim(*lay['ylim'])
    ax.set_xticks([6, 8, 10, 12, 14])
    ax.set_yticks([-4, -2, 0, 2, 4])
    ax.set_yticklabels(['-4', '-2', '0', '2', '4'], rotation=90, va='center', ha='center')
    # tick length / pad are in points (0.72 pt per pixel at 100 dpi)
    ax.tick_params(length=2.9, width=0.8, color=axis_col, labelsize=lay['tick_fs'])
    ax.tick_params(axis='y', pad=5.2)
    ax.tick_params(axis='x', pad=lay['xpad'])
    for s in ['top', 'right']:
        ax.spines[s].set_visible(False)
    for s in ['left', 'bottom']:
        ax.spines[s].set_color(axis_col)
        ax.spines[s].set_linewidth(0.9)

    ax.set_ylabel(ylab, fontsize=lay['lab_fs'], va='center')
    ax.yaxis.set_label_coords(lay['ylab_x'], 0.5)
    ax.set_xlabel('age', fontsize=lay['lab_fs'], va='center')
    ax.xaxis.set_label_coords(0.5, lay['xlab_y'])

    sx, ry, py = lay['stats']
    fig.text(sx / W, 1 - ry / H, 'r = ' + r, fontsize=lay['stat_fs'], va='center', ha='left')
    fig.text(sx / W, 1 - py / H, 'p = ' + p, fontsize=lay['stat_fs'], va='center', ha='left')

    lx, ly = lay['letter']
    fig.text(lx / W, 1 - ly / H, letter, fontsize=13, family=['Open Sans', 'DejaVu Sans'],
             ha='left', va='baseline')

fig.savefig('out.png', dpi=100)
